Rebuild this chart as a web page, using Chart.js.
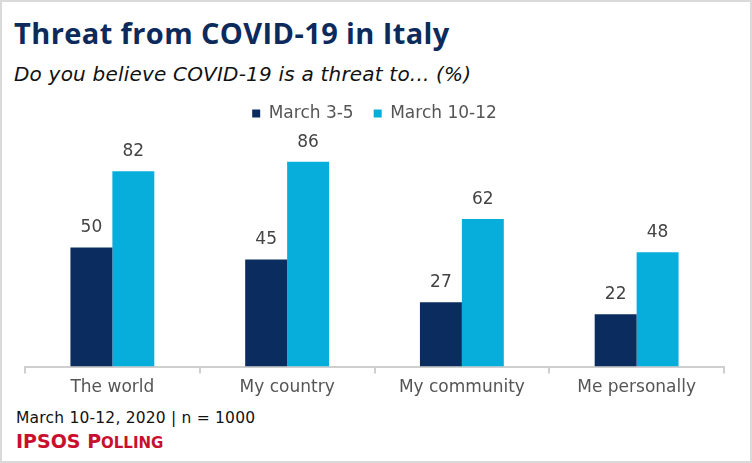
<!DOCTYPE html>
<html>
<head>
<meta charset="utf-8">
<script src="https://cdn.jsdelivr.net/npm/chart.js@4"></script>
<style>
  html, body { margin: 0; padding: 0; background: #fff; }
  .frame {
    position: relative;
    width: 748px;
    height: 459px;
    border: 2px solid #dadada;
    font-family: "DejaVu Sans", sans-serif;
    overflow: hidden;
  }
  .title {
    position: absolute; left: 12px; top: 11px;
    font-family: "Open Sans", sans-serif;
    font-size: 29px; font-weight: 700; color: #0c2a5b;
    letter-spacing: 0.4px;
  }
  .subtitle {
    position: absolute; left: 12px; top: 60px;
    font-size: 20px; font-style: italic; color: #111;
    letter-spacing: 0.2px;
  }
  .chart-box { position: absolute; left: 0; top: 83px; width: 748px; height: 317px; }
  .note {
    position: absolute; left: 14px; top: 407px;
    font-size: 15.5px; color: #111;
    letter-spacing: 0.2px;
  }
  .brand {
    position: absolute; left: 14px; top: 428px;
    font-size: 19px; font-weight: 600; color: #c8102e;
  }
  .brand .sc { font-size: 15px; }
</style>
</head>
<body>
<div class="frame">
  <div class="title">Threat from COVID-19 in Italy</div>
  <div class="subtitle">Do you believe COVID-19 is a threat to... (%)</div>
  <div class="chart-box"><canvas id="threatChart"></canvas></div>
  <div class="note">March 10-12, 2020 | n = 1000</div>
  <div class="brand">IPSOS P<span class="sc">OLLING</span></div>
</div>
<script>
const categories = ["The world", "My country", "My community", "Me personally"];
const march3to5 = [50, 45, 27, 22];
const march10to12 = [82, 86, 62, 48];
const seriesNames = ["March 3-5", "March 10-12"];

const FONT = '"DejaVu Sans", sans-serif';

// draw value labels above each bar
const valueLabels = {
  id: "valueLabels",
  afterDatasetsDraw(chart) {
    const ctx = chart.ctx;
    ctx.save();
    ctx.fillStyle = "#444";
    ctx.font = "17px " + FONT;
    ctx.textAlign = "center";
    ctx.textBaseline = "bottom";
    chart.data.datasets.forEach((ds, i) => {
      chart.getDatasetMeta(i).data.forEach((bar, j) => {
        ctx.fillText(ds.data[j], bar.x, bar.y - 11);
      });
    });
    ctx.restore();
  },
};

const ctx = document.getElementById("threatChart").getContext("2d");
new Chart(ctx, {
  type: "bar",
  data: {
    labels: categories,
    datasets: [
      {
        label: seriesNames[0],
        data: march3to5,
        backgroundColor: "#0b2c5e",
        categoryPercentage: 0.48,
        barPercentage: 1,
      },
      {
        label: seriesNames[1],
        data: march10to12,
        backgroundColor: "#08aedb",
        categoryPercentage: 0.48,
        barPercentage: 1,
      },
    ],
  },
  options: {
    responsive: true,
    maintainAspectRatio: false,
    animation: false,
    layout: { padding: { left: 23, right: 26, top: 0, bottom: 0 } },
    plugins: {
      legend: {
        display: true,
        labels: {
          color: "#555",
          font: { size: 17, family: FONT },
          boxWidth: 8,
          boxHeight: 8,
          padding: 20,
        },
      },
      tooltip: { enabled: false },
    },
    scales: {
      x: {
        grid: {
          display: true,
          offset: true,
          drawOnChartArea: false,
          drawTicks: true,
          tickLength: 7,
          color: "#cfcfcf",
          lineWidth: 2,
        },
        border: { display: true, color: "#cfcfcf", width: 2 },
        ticks: {
          color: "#555",
          font: { size: 17, family: FONT },
          padding: 4,
        },
      },
      y: {
        display: false,
        min: 0,
        max: 98.5,
      },
    },
  },
  plugins: [valueLabels],
});
</script>
</body>
</html>
